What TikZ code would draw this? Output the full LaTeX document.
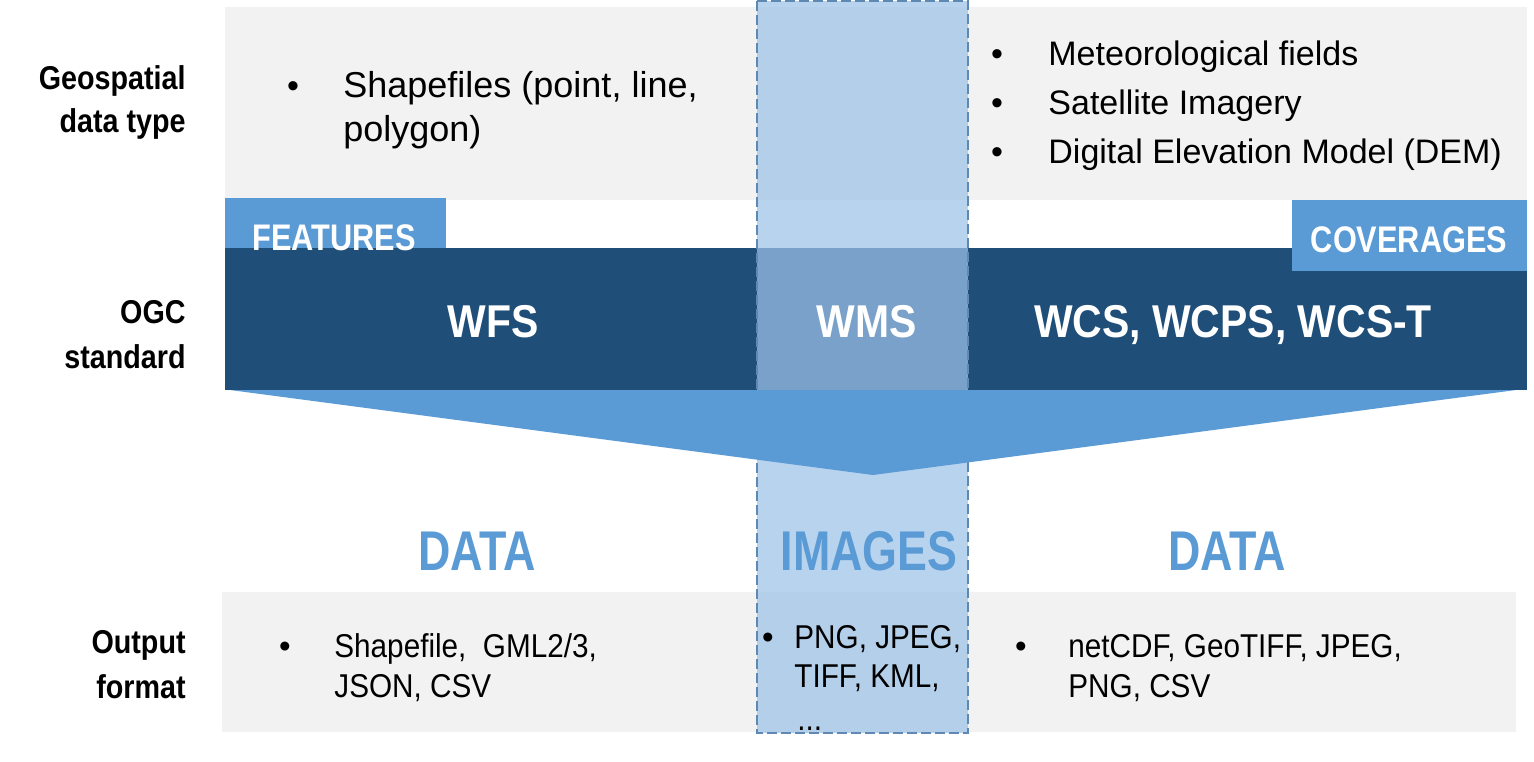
\documentclass[tikz,border=0pt]{standalone}
\usepackage{fontspec}
\setmainfont{Liberation Sans}
\newfontfamily\condbf{Liberation Sans}[FakeStretch=0.87]
\newfontfamily\tabbf{Liberation Sans}[FakeStretch=0.83]
\newfontfamily\stdbf{Liberation Sans}[FakeStretch=0.89]
\newfontfamily\bigbf{Liberation Sans}[FakeStretch=0.80]
\newfontfamily\narrowrm{Liberation Sans}[FakeStretch=0.90]

\definecolor{bandgrey}{HTML}{F2F2F2}
\definecolor{lightblue}{HTML}{5B9BD5}
\definecolor{darkblue}{HTML}{1F4E79}
\definecolor{wmsblue}{HTML}{9DC2E8}
\definecolor{dashblue}{HTML}{5F88B2}

\tikzset{
  rowlabel/.style={anchor=base east, inner sep=0pt, font=\condbf\bfseries\fontsize{16.5}{20}\selectfont},
  toptext/.style={anchor=base west, inner sep=0pt, font=\fontsize{17}{20}\selectfont},
  topbullet/.style={anchor=base, inner sep=0pt, font=\fontsize{17}{20}\selectfont},
  featext/.style={toptext, font=\fontsize{18}{20}\selectfont},
  lowtext/.style={anchor=base west, inner sep=0pt, font=\narrowrm\fontsize{16.5}{20}\selectfont},
  lowbullet/.style={anchor=base, inner sep=0pt, font=\fontsize{16.5}{20}\selectfont},
  tabtext/.style={anchor=base, inner sep=0pt, text=white, font=\tabbf\bfseries\fontsize{18.5}{22}\selectfont},
  stdtext/.style={anchor=base, inner sep=0pt, text=white, font=\stdbf\bfseries\fontsize{23}{26}\selectfont},
  kindtext/.style={anchor=base, inner sep=0pt, text=lightblue, font=\bigbf\bfseries\fontsize{28}{32}\selectfont},
}

\begin{document}
\begin{tikzpicture}[x=0.5pt, y=-0.5pt]
\useasboundingbox (0,0) rectangle (1534,761);

% grey bands for data types and output formats
\fill[bandgrey] (225,7) rectangle (1527,200);
\fill[bandgrey] (222,592) rectangle (1516,732);

% standard band with its two tabs
\fill[lightblue] (225,198) rectangle (446,271);
\fill[lightblue] (1292,200) rectangle (1527,273);
\fill[darkblue] (225,248) rectangle (1292,390);
\fill[darkblue] (446,271) rectangle (1527,390);
\fill[darkblue] (446,248) rectangle (1292,271);

% WMS column
\fill[wmsblue, fill opacity=0.72] (757,1) rectangle (968,733);
\draw[dashblue, line width=0.7pt, dash pattern=on 5pt off 2pt] (757,1) rectangle (968,733);

% funnel arrow
\fill[lightblue] (230,390) -- (1516,390) -- (873,475) -- cycle;

% row labels
\node[rowlabel] (lgeo1) at (186,89) {Geospatial};
\node[rowlabel] (lgeo2) at (186,132) {data type};
\node[rowlabel] (logc1) at (186,323) {OGC};
\node[rowlabel] (logc2) at (186,368) {standard};
\node[rowlabel] (lout1) at (186,653) {Output};
\node[rowlabel] (lout2) at (186,698) {format};

% data types
\node[topbullet] (bfeat) at (293,97) {•};
\node[featext] (tfeat1) at (343,97) {Shapefiles (point, line,};
\node[featext] (tfeat2) at (343,141) {polygon)};
\node[topbullet] (bcov1) at (997,65) {•};
\node[topbullet] (bcov2) at (997,114) {•};
\node[topbullet] (bcov3) at (997,163) {•};
\node[toptext] (tcov1) at (1048,65) {Meteorological fields};
\node[toptext] (tcov2) at (1048,114) {Satellite Imagery};
\node[toptext] (tcov3) at (1048,163) {Digital Elevation Model (DEM)};

% tabs and standards
\node[tabtext] (features) at (334,250) {FEATURES};
\node[tabtext] (coverages) at (1409,252) {COVERAGES};
\node[stdtext] (wfs) at (493,337) {WFS};
\node[stdtext] (wms) at (867,337) {WMS};
\node[stdtext] (wcs) at (1233,337) {WCS, WCPS, WCS-T};

% results
\node[kindtext] (dataL) at (477,570) {DATA};
\node[kindtext] (images) at (869,570) {IMAGES};
\node[kindtext] (dataR) at (1227,570) {DATA};

% output formats
\node[lowbullet] (bout1) at (285,657) {•};
\node[lowtext] (tout1a) at (334,657) {Shapefile,\ \ GML2/3,};
\node[lowtext] (tout1b) at (334,697) {JSON, CSV};
\node[lowbullet] (bout2) at (768,648) {•};
\node[lowtext] (tout2a) at (794,648) {PNG, JPEG,};
\node[lowtext] (tout2b) at (794,687) {TIFF, KML,};
\node[lowtext] (tout2c) at (797,730) {...};
\node[lowbullet] (bout3) at (1021,657) {•};
\node[lowtext] (tout3a) at (1068,657) {netCDF, GeoTIFF, JPEG,};
\node[lowtext] (tout3b) at (1068,697) {PNG, CSV};
\end{tikzpicture}
\end{document}
